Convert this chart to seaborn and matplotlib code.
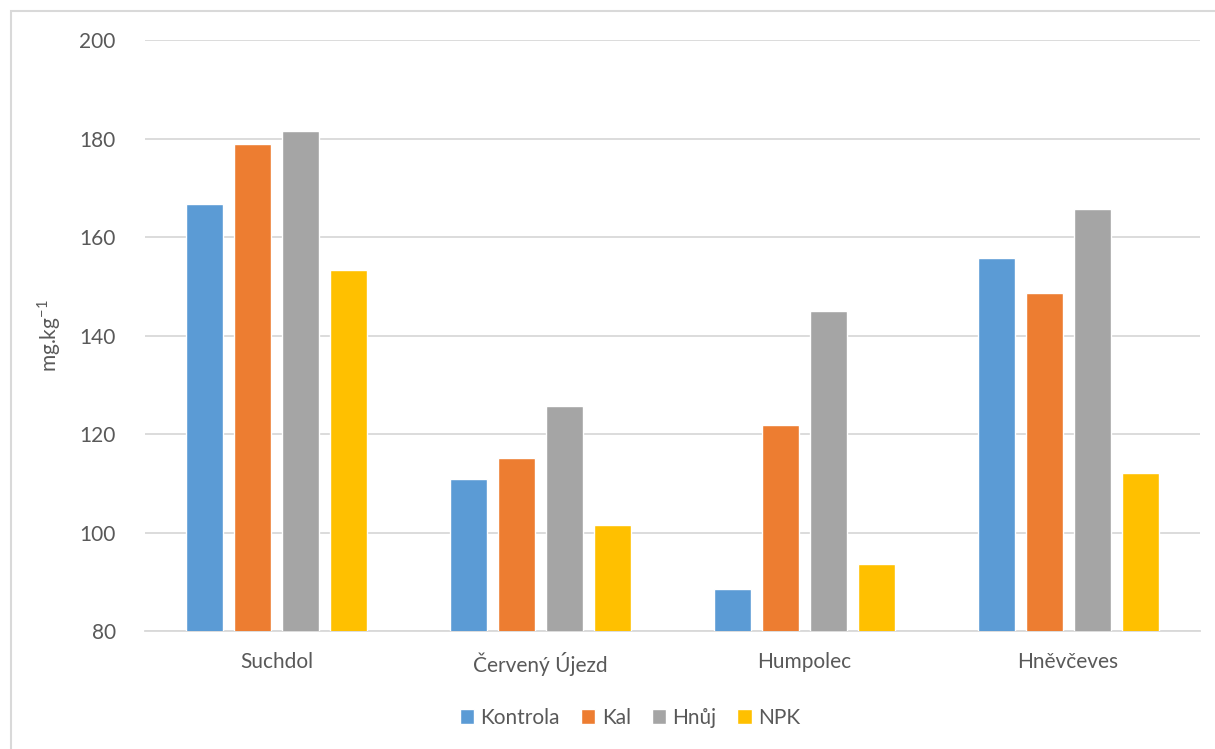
import pandas as pd
import seaborn as sns
import matplotlib.pyplot as plt
from matplotlib.patches import Rectangle

# data
sites = ["Suchdol", "Červený Újezd", "Humpolec", "Hněvčeves"]
kontrola = [166.8, 110.8, 88.6, 155.8]
kal = [178.9, 115.2, 121.9, 148.7]
hnuj = [181.5, 125.6, 145.0, 165.7]
npk = [153.3, 101.6, 93.7, 112.0]
series = ["Kontrola", "Kal", "Hnůj", "NPK"]
colors = ["#5B9BD5", "#ED7D31", "#A5A5A5", "#FFC000"]

rows = []
for name, vals in zip(series, [kontrola, kal, hnuj, npk]):
    for s, v in zip(sites, vals):
        rows.append({"site": s, "treatment": name, "value": v})
df = pd.DataFrame(rows)

sns.set_style("white")
plt.rcParams['font.family'] = ['Lato', 'DejaVu Sans']

fig = plt.figure(figsize=(12.15, 7.49), dpi=100)
ax = fig.add_axes([0.1193, 0.1575, 0.8684, 0.7891])

sns.barplot(data=df, x="site", y="value", hue="treatment", order=sites,
            hue_order=series, palette=colors, width=0.728, gap=0.23,
            saturation=1, ax=ax, zorder=3)

ax.set_ylim(80, 200)
ax.set_yticks(range(80, 201, 20))
ax.set_xlim(-0.5, 3.5)
ax.yaxis.grid(True, color="#D9D9D9", linewidth=1.3, zorder=0)
ax.set_axisbelow(True)
for side in ["top", "right", "left"]:
    ax.spines[side].set_visible(False)
ax.spines["bottom"].set_color("#D9D9D9")
ax.spines["bottom"].set_linewidth(1.3)
ax.tick_params(axis="both", length=0, labelsize=15, colors="#595959")
ax.tick_params(axis="y", pad=21)
ax.tick_params(axis="x", pad=15)
ax.set_xlabel("")
ax.set_ylabel("mg.kg$^{\\mathregular{-1}}$", fontsize=15, color="#595959", labelpad=12)

# legend is centred on the chart area, not on the plot area
ax.legend(loc="upper center", bbox_to_anchor=(630 / 1215, 0.08),
          bbox_transform=fig.transFigure, ncol=4,
          frameon=False, fontsize=15, handlelength=0.7, handleheight=0.7,
          handletextpad=0.3, columnspacing=1.0, labelcolor="#595959")

fig.patches.append(Rectangle((11 / 1215, -0.01), 1.02, 1 - 11 / 749 + 0.01,
                             transform=fig.transFigure, fill=False,
                             edgecolor="#D9D9D9", linewidth=1.5))

fig.savefig("out.png", dpi=100)
